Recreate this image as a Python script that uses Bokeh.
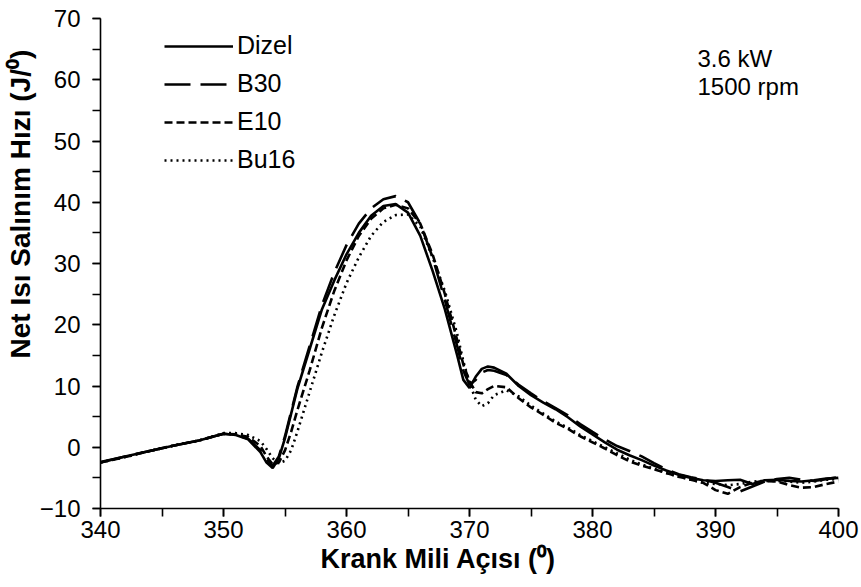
from bokeh.plotting import figure
from bokeh.models import Range1d, SingleIntervalTicker, Legend, LegendItem, Label, Title
from bokeh.embed import file_html
from bokeh.resources import INLINE

angle = [340, 342, 344, 346, 348, 350, 351, 352, 353, 353.5, 354, 354.5, 355, 355.5, 356, 357, 358, 359,
         360, 361, 362, 363, 364, 365, 366, 367, 368, 369, 369.5, 370, 370.5, 371, 371.5, 372, 373, 374,
         375, 376, 377, 378, 379, 380, 381, 382, 383, 384, 385, 386, 387, 388, 389, 390, 391, 392, 393,
         394, 395, 396, 397, 398, 399, 400]

dizel = [-2.5, -1.5, -0.6, 0.3, 1.1, 2.2, 2.0, 1.3, -0.8, -2.5, -3.4, -1.8, 1.5, 5.5, 9.5, 16.0, 22.5, 27.2,
         31.5, 35.0, 37.8, 39.4, 39.7, 38.3, 34.5, 28.8, 22.5, 15.0, 11.0, 9.7, 11.5, 12.8, 13.2, 13.0, 12.0, 10.0,
         8.5, 7.3, 6.2, 4.9, 3.4, 2.1, 0.8, -0.4, -1.3, -2.1, -3.0, -3.8, -4.5, -5.0, -5.4, -5.5, -5.4, -5.3, -6.0,
         -5.4, -5.3, -5.5, -5.6, -5.4, -5.1, -5.0]

b30 = [-2.4, -1.5, -0.6, 0.3, 1.1, 2.2, 2.0, 1.4, -0.5, -2.0, -3.0, -1.5, 1.8, 5.8, 9.8, 16.5, 23.2, 28.5,
       33.0, 36.5, 39.0, 40.5, 41.0, 40.0, 36.5, 31.0, 24.0, 16.5, 12.5, 10.2, 11.0, 12.2, 12.6, 12.5, 11.8, 10.2,
       8.8, 7.5, 6.4, 5.2, 3.8, 2.5, 1.3, 0.2, -0.6, -1.5, -2.6, -3.6, -4.4, -4.9, -5.3, -5.8, -6.5, -7.2, -6.4,
       -5.6, -5.2, -5.0, -5.3, -5.5, -5.2, -4.9]

e10 = [-2.5, -1.6, -0.6, 0.3, 1.1, 2.2, 2.1, 1.7, 0.2, -1.5, -2.8, -2.5, -0.5, 2.5, 6.0, 12.5, 19.5, 25.5,
       30.5, 34.5, 37.3, 39.0, 39.6, 39.0, 36.5, 31.5, 25.0, 17.5, 13.5, 10.8, 9.0, 8.8, 9.5, 10.0, 9.8, 8.0,
       6.5, 5.3, 4.0, 3.0, 1.8, 0.8, -0.2, -1.3, -2.3, -3.0, -3.6, -4.2, -4.8, -5.3, -5.8, -7.0, -7.6, -6.5, -5.8,
       -5.5, -5.6, -6.2, -6.6, -6.5, -6.0, -5.6]

bu16 = [-2.5, -1.6, -0.6, 0.3, 1.1, 2.3, 2.3, 2.0, 1.0, -0.3, -1.8, -2.6, -2.2, -0.5, 2.5, 9.0, 15.5, 21.5,
        26.8, 31.0, 34.5, 36.8, 37.9, 38.0, 36.0, 31.0, 25.5, 18.5, 14.0, 10.5, 7.8, 6.7, 7.2, 8.5, 9.3, 8.3,
        6.8, 5.5, 4.2, 3.2, 2.0, 1.0, 0.0, -1.0, -2.0, -2.8, -3.5, -4.2, -4.8, -5.3, -5.8, -6.0, -6.2, -6.0, -5.6,
        -5.5, -5.5, -5.6, -5.8, -5.6, -5.3, -5.2]

series_names = ["Dizel", "B30", "E10", "Bu16"]
x_label = "Krank Mili Açısı (⁰)"
y_label = "Net Isı Salınım Hızı (J/⁰)"
note_lines = ["3.6 kW", "1500 rpm"]

FONT = "Liberation Sans"

p = figure(width=861, height=587, output_backend="svg", toolbar_location=None,
           x_range=Range1d(340, 400), y_range=Range1d(-10, 70),
           min_border_left=100, min_border_right=23, min_border_top=18, min_border_bottom=79)
p.outline_line_color = None
p.xgrid.visible = False
p.ygrid.visible = False
p.background_fill_color = "white"
p.border_fill_color = "white"

styles = [
    dict(line_dash="solid"),
    dict(line_dash="26 10"),
    dict(line_dash="8 4"),
    dict(line_dash="2 4"),
]
renderers = []
for ys, st in zip([dizel, b30, e10, bu16], styles):
    r = p.line(angle, ys, line_color="black", line_width=2.6, **st)
    renderers.append(r)

for ax in (p.xaxis[0], p.yaxis[0]):
    ax.ticker = SingleIntervalTicker(interval=10, num_minor_ticks=2)
    ax.axis_line_color = "black"
    ax.axis_line_width = 1.6
    ax.major_tick_line_color = "black"
    ax.minor_tick_line_color = "black"
    ax.major_tick_line_width = 1.6
    ax.minor_tick_line_width = 1.6
    ax.major_tick_in = 0
    ax.major_tick_out = 8
    ax.minor_tick_in = 0
    ax.minor_tick_out = 8
    ax.major_label_text_font = FONT
    ax.major_label_text_font_size = "24px"
    ax.major_label_text_color = "black"

p.xaxis.major_label_standoff = 4
p.yaxis.major_label_standoff = 12

# axis titles placed like the reference (not centred on the plot frame)
p.add_layout(Title(text=x_label, align="left", offset=220, standoff=2,
                   text_font=FONT, text_font_size="27px", text_font_style="bold",
                   text_color="black"), "below")
p.add_layout(Title(text=y_label, align="left", offset=150, standoff=2,
                   text_font=FONT, text_font_size="28px", text_font_style="bold",
                   text_color="black"), "left")

legend = Legend(items=[LegendItem(label=n, renderers=[r]) for n, r in zip(series_names, renderers)],
                location=(64, 334), orientation="vertical")
legend.glyph_width = 69
legend.glyph_height = 20
legend.label_height = 20
legend.spacing = 9
legend.padding = 4
legend.margin = 0
legend.label_standoff = 4
legend.label_text_font = FONT
legend.label_text_font_size = "25px"
legend.label_text_color = "black"
legend.border_line_color = None
legend.background_fill_alpha = 0
p.add_layout(legend)

for i, t in enumerate(note_lines):
    p.add_layout(Label(x=597, y=450 - i * 28, x_units="screen", y_units="screen", text=t,
                       text_font=FONT, text_font_size="24px", text_color="black",
                       text_baseline="middle"))

open("out.html", "w").write(file_html(p, INLINE))
